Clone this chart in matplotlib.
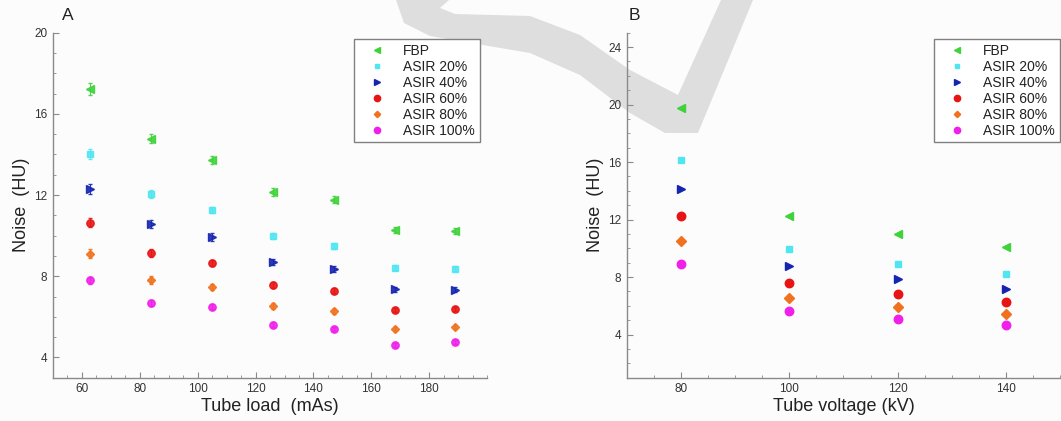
import matplotlib
matplotlib.use("Agg")
import matplotlib.pyplot as plt
from matplotlib.patches import Polygon
from matplotlib.lines import Line2D
from matplotlib.ticker import MultipleLocator

plt.rcParams['font.family'] = ['Liberation Sans', 'DejaVu Sans']

series = ['FBP', 'ASIR 20%', 'ASIR 40%', 'ASIR 60%', 'ASIR 80%', 'ASIR 100%']
markers = ['<', 's', '>', 'o', 'D', 'o']
colors = ['#3fd23a', '#4fe6f2', '#1625b0', '#e81414', '#f0721e', '#f020ea']
msizes = [5.5, 4, 5.5, 5.3, 3.8, 5.3]

# panel A: noise vs tube load
load_mas = [63, 84, 105, 126, 147, 168, 189]
noise_load = {
    'FBP':       [17.22, 14.78, 13.71, 12.15, 11.77, 10.30, 10.21],
    'ASIR 20%':  [14.04, 12.07, 11.28, 9.96, 9.48, 8.41, 8.38],
    'ASIR 40%':  [12.28, 10.58, 9.93, 8.72, 8.36, 7.36, 7.34],
    'ASIR 60%':  [10.63, 9.14, 8.64, 7.57, 7.28, 6.34, 6.39],
    'ASIR 80%':  [9.10, 7.82, 7.49, 6.53, 6.27, 5.40, 5.48],
    'ASIR 100%': [7.79, 6.68, 6.50, 5.61, 5.40, 4.63, 4.77],
}
err_load = {
    'FBP':       [0.30, 0.22, 0.20, 0.20, 0.18, 0.15, 0.15],
    'ASIR 20%':  [0.25, 0.20, 0.15, 0.15, 0.15, 0.12, 0.12],
    'ASIR 40%':  [0.25, 0.20, 0.18, 0.15, 0.15, 0.12, 0.12],
    'ASIR 60%':  [0.22, 0.18, 0.15, 0.15, 0.13, 0.10, 0.10],
    'ASIR 80%':  [0.22, 0.18, 0.15, 0.15, 0.13, 0.10, 0.10],
    'ASIR 100%': [0.18, 0.15, 0.12, 0.12, 0.10, 0.10, 0.10],
}

# panel B: noise vs tube voltage
voltage_kv = [80, 100, 120, 140]
noise_kv = {
    'FBP':       [19.78, 12.23, 10.98, 10.07],
    'ASIR 20%':  [16.12, 9.98, 8.94, 8.19],
    'ASIR 40%':  [14.10, 8.75, 7.87, 7.20],
    'ASIR 60%':  [12.25, 7.59, 6.85, 6.27],
    'ASIR 80%':  [10.51, 6.57, 5.90, 5.41],
    'ASIR 100%': [8.94, 5.63, 5.11, 4.65],
}

fig = plt.figure(figsize=(10.61, 4.21), dpi=100, facecolor='#fcfcfc')

# grey watermark band behind the plots
upper = [(449, 0), (440, 8), (455, 14), (530, 16), (580, 35), (630, 70), (678, 95), (721, 0)]
lower = [(753, 0), (698, 133), (665, 133), (630, 113), (580, 75), (530, 53), (430, 36), (404, 23), (396, 0)]
pts = [(x / 1061, 1 - y / 421) for x, y in upper + lower]
fig.patches.append(Polygon(pts, closed=True, transform=fig.transFigure,
                           facecolor='#dedede', edgecolor='none', zorder=-1))

axA = fig.add_axes([0.0497, 0.1029, 0.4096, 0.8194])
axB = fig.add_axes([0.591, 0.1029, 0.408, 0.8194])


def style(ax):
    ax.set_facecolor('none')
    for s in ['top', 'right']:
        ax.spines[s].set_visible(False)
    for s in ['left', 'bottom']:
        ax.spines[s].set_color('#8a8a8a')
        ax.spines[s].set_linewidth(1.0)
    ax.tick_params(which='both', direction='in', colors='#8a8a8a',
                   labelcolor='#333333', labelsize=8.5, pad=4)
    ax.tick_params(which='major', length=4)
    ax.tick_params(which='minor', length=2)


for i, name in enumerate(series):
    axA.errorbar(load_mas, noise_load[name], yerr=err_load[name], fmt=markers[i],
                 color=colors[i], ms=msizes[i], mec=colors[i], ecolor=colors[i],
                 elinewidth=0.8, capsize=1.5, alpha=0.9)
    axB.plot(voltage_kv, noise_kv[name], markers[i], color=colors[i],
             ms=msizes[i] + 0.8, mec=colors[i])

axA.set_xlim(50, 200)
axA.set_ylim(3, 20)
axA.set_xticks([60, 80, 100, 120, 140, 160, 180])
axA.set_yticks([4, 8, 12, 16, 20])
axA.xaxis.set_minor_locator(MultipleLocator(5))
axA.yaxis.set_minor_locator(MultipleLocator(1))

axB.set_xlim(70, 150)
axB.set_ylim(1, 25)
axB.set_xticks([80, 100, 120, 140])
axB.set_yticks([4, 8, 12, 16, 20, 24])
axB.xaxis.set_minor_locator(MultipleLocator(5))
axB.yaxis.set_minor_locator(MultipleLocator(1))

for ax in (axA, axB):
    style(ax)
    ax.set_ylabel('Noise  (HU)', fontsize=13, color='#222222', labelpad=3)

axA.set_xlabel('Tube load  (mAs)', fontsize=13, color='#222222', labelpad=2)
axB.set_xlabel('Tube voltage (kV)', fontsize=13, color='#222222', labelpad=2)

handles = [Line2D([], [], ls='none', marker=markers[i], color=colors[i],
                  mec=colors[i], ms=msizes[i] * 0.85) for i in range(len(series))]

for ax, anchor in ((axA, (0.983, 0.982)), (axB, (1.0, 0.982))):
    leg = ax.legend(handles, series, loc='upper right', bbox_to_anchor=anchor,
                    fontsize=10, frameon=True, fancybox=False, edgecolor='#808080',
                    framealpha=1, facecolor='white', handlelength=2.6,
                    handletextpad=0.6, labelspacing=0.14, borderpad=0.35,
                    borderaxespad=0)
    leg.get_frame().set_linewidth(1.0)
    for t in leg.get_texts():
        t.set_color('#222222')

fig.text(68 / 1061, 1 - 15 / 421, 'A', fontsize=12.5, ha='center', va='center', color='#222222')
fig.text(634 / 1061, 1 - 15 / 421, 'B', fontsize=12.5, ha='center', va='center', color='#222222')

fig.savefig('out.png', dpi=100, facecolor=fig.get_facecolor())
